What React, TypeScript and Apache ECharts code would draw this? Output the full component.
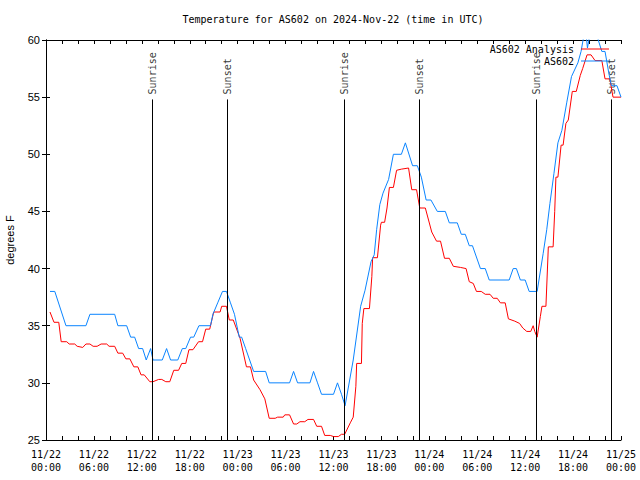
import React, { useEffect, useRef } from "react";
import * as echarts from "echarts";

const xTickLabels = [
  "11/22\n00:00", "11/22\n06:00", "11/22\n12:00", "11/22\n18:00",
  "11/23\n00:00", "11/23\n06:00", "11/23\n12:00", "11/23\n18:00",
  "11/24\n00:00", "11/24\n06:00", "11/24\n12:00", "11/24\n18:00",
  "11/25\n00:00",
];

// hours since 11/22 00:00 UTC
const obsHours = [
  0.5, 1.1, 2.5, 5.0, 5.5, 8.6, 9.0, 10.1, 10.6, 11.1, 11.6, 12.1, 12.55, 13.1, 13.4,
  14.56, 15.1, 15.6, 16.5, 17.07, 17.5, 18.1, 18.5, 19.15, 20.6, 20.9, 21.5, 22.1, 22.6,
  23.1, 23.6, 24.2, 24.5, 25.0, 25.5, 26.0, 27.5, 27.95, 30.5, 31.0, 31.5, 33.05, 33.5,
  34.0, 34.5, 36.0, 36.5, 37.0, 37.45, 38.47, 39.4, 39.95, 40.7, 41.1, 41.4, 41.8, 42.2,
  42.9, 43.5, 44.5, 45.0, 45.9, 46.5, 47.0, 47.6, 48.2, 49.0, 50.0, 50.5, 51.5, 52.0,
  52.5, 53.0, 53.4, 54.4, 55.0, 55.5, 58.0, 58.5, 58.9, 59.4, 60.0, 60.5, 61.5, 62.25,
  62.7, 63.1, 63.6, 64.1, 64.6, 65.2, 65.8, 66.6, 67.0, 67.3, 67.55, 67.8, 68.1, 68.4,
  68.9, 69.15, 69.6, 70.0, 70.5, 70.8, 71.5, 72.0,
];
const obsTemps = [
  38, 38, 35, 35, 36, 36, 35, 35, 34, 34, 33, 33, 32, 33, 32,
  32, 33, 32, 32, 33, 33, 34, 34, 35, 35, 36, 37, 38, 38,
  37, 36, 34, 34, 33, 32, 31, 31, 30, 30, 31, 30, 30, 31,
  30, 29, 29, 30, 29, 28, 32, 36.7, 38.1, 40.6, 41.2, 43.4, 45.6, 46.6,
  47.8, 50, 50, 51, 49, 49, 48, 46, 46, 45, 45, 44, 44, 43,
  43, 42, 42, 40, 40, 39, 39, 40, 40, 39, 39, 38, 38, 41.3,
  43.4, 45.7, 48.3, 51, 52.1, 54.5, 56.8, 58, 59, 60.2, 61, 59.3, 60.5, 61,
  61, 60, 59, 59, 57, 56, 56, 55,
];

const anaHours = [
  0.5, 1.0, 1.6, 1.9, 2.6, 2.9, 3.6, 3.9, 4.6, 5.0, 5.5, 5.9, 6.4, 6.9, 7.6, 7.9, 8.6,
  9.0, 9.6, 10.0, 10.5, 11.0, 11.5, 11.9, 12.3, 13.0, 13.4, 14.1, 14.5, 15.0, 15.5,
  16.0, 16.6, 17.0, 17.5, 17.9, 18.4, 19.1, 19.6, 20.0, 20.5, 21.0, 21.8, 22.0, 22.6,
  22.95, 23.45, 24.3, 25.1, 25.6, 26.0, 26.8, 27.4, 27.95, 28.7, 29.0, 29.7, 29.9, 30.5,
  31.0, 31.4, 31.8, 32.4, 32.8, 33.5, 33.9, 34.5, 34.9, 35.6, 36.0, 36.6, 37.0, 37.4,
  38.1, 38.47, 38.8, 38.9, 39.5, 39.6, 39.8, 40.5, 40.8, 40.9, 41.5, 41.9, 42.0, 42.4,
  42.7, 43.0, 43.5, 43.9, 44.5, 45.4, 45.8, 46.4, 46.8, 47.5, 47.9, 48.3, 48.9, 49.4,
  49.9, 50.5, 51.0, 51.9, 52.6, 53.0, 53.5, 53.9, 54.5, 55.0, 55.6, 56.0, 56.5, 56.9,
  57.5, 57.9, 58.7, 59.3, 59.7, 60.2, 60.7, 61.0, 61.2, 61.5, 61.9, 62.1, 62.6, 62.9,
  63.5, 63.7, 63.85, 64.1, 64.5, 64.75, 65.1, 65.4, 65.9, 66.4, 66.9, 67.2, 67.75, 68.25,
  68.75, 69.6, 70.0, 70.6, 71.0, 72.0,
];
const anaTemps = [
  36.2, 35.3, 35.3, 33.6, 33.6, 33.4, 33.4, 33.2, 33.1, 33.4, 33.4, 33.2, 33.2, 33.4, 33.4, 33.2, 33.2,
  32.6, 32.6, 32.1, 32.1, 31.4, 31.4, 30.7, 30.7, 30.1, 30.1, 30.3, 30.3, 30.1, 30.1,
  31.1, 31.1, 31.7, 31.7, 32.9, 32.9, 33.6, 33.6, 34.7, 34.7, 36.2, 36.2, 36.7, 36.7,
  35.5, 35.5, 33.9, 31.4, 31.4, 30.25, 29.4, 28.6, 26.9, 26.9, 27.0, 27.0, 27.2, 27.2,
  26.4, 26.4, 26.6, 26.6, 26.8, 26.8, 26.2, 26.2, 25.4, 25.4, 25.3, 25.3, 25.5, 25.5,
  26.5, 27.0, 29.7, 31.7, 31.7, 35.2, 36.5, 36.5, 39.3, 40.95, 40.95, 43.8, 44.05, 44.05,
  45.3, 47.1, 47.1, 48.6, 48.7, 48.8, 46.9, 46.9, 45.3, 45.3, 44.25, 43.2, 42.4, 42.4,
  40.9, 40.9, 40.2, 40.1, 40.0, 38.85, 38.7, 38.0, 38.0, 37.75, 37.75, 37.4, 37.4, 37.0,
  37.0, 35.6, 35.4, 35.2, 34.8, 34.5, 34.5, 35.0, 34.5, 34.0, 35.8, 36.7, 36.7, 41.9,
  41.9, 45.0, 48.0, 48.0, 50.8, 50.8, 52.7, 53.0, 55.5, 55.5, 56.9, 57.5, 58.7, 58.7,
  58.2, 58.2, 56.6, 56.6, 55.0, 55.0,
];

const eventNames = ["Sunrise", "Sunset", "Sunrise", "Sunset", "Sunrise", "Sunset"];
const eventHours = [13.31, 22.7, 37.36, 46.75, 61.44, 70.8];
const eventTop = 54.8;

const MONO = "DejaVu Sans Mono";
const SANS = "Liberation Sans";

export default function App() {
  const ref = useRef<HTMLDivElement>(null);
  useEffect(() => {
    if (!ref.current) return;
    const chart = echarts.init(ref.current, undefined, { renderer: "svg" });
    const obs = obsHours.map((h, i) => [h, obsTemps[i]]);
    const ana = anaHours.map((h, i) => [h, anaTemps[i]]);
    const xCommon = {
      type: "value" as const,
      min: 0,
      max: 72,
      interval: 6,
      splitLine: { show: false },
      axisLine: { show: true, lineStyle: { color: "#000", width: 1 } },
      axisTick: { show: true, inside: true, length: 4, lineStyle: { color: "#000" } },
      minorTick: { show: true, splitNumber: 3, length: 4, lineStyle: { color: "#000" } },
      minorSplitLine: { show: false },
    };
    const yCommon = {
      type: "value" as const,
      min: 25,
      max: 60,
      interval: 5,
      splitLine: { show: false },
      axisLine: { show: true, lineStyle: { color: "#000", width: 1 } },
      axisTick: { show: true, inside: true, length: 4, lineStyle: { color: "#000" } },
    };
    chart.setOption({
      animation: false,
      backgroundColor: "#fff",
      title: {
        text: "Temperature for AS602 on 2024-Nov-22 (time in UTC)",
        left: 328,
        textAlign: "center",
        top: 9,
        textStyle: { fontFamily: MONO, fontSize: 10, fontWeight: "normal", color: "#000" },
      },
      legend: {
        data: ["AS602 Analysis", "AS602"],
        orient: "vertical",
        right: 31,
        top: 43,
        align: "right",
        icon: "rect",
        itemWidth: 28,
        itemHeight: 1,
        itemGap: 0,
        padding: 0,
        textStyle: { fontFamily: MONO, fontSize: 10, color: "#000", lineHeight: 12, padding: [0, 2, 0, 0] },
      },
      grid: { left: 46, right: 19, top: 40, bottom: 40, containLabel: false, outerBoundsMode: "none" },
      xAxis: [
        {
          ...xCommon,
          position: "bottom",
          axisLabel: {
            show: true,
            margin: 8,
            fontFamily: MONO,
            fontSize: 10,
            color: "#000",
            lineHeight: 13,
            formatter: (v: number) => xTickLabels[Math.round(v / 6)] ?? "",
          },
        },
        { ...xCommon, position: "top", axisLabel: { show: false } },
      ],
      yAxis: [
        {
          ...yCommon,
          position: "left",
          name: "degrees F",
          nameLocation: "middle",
          nameRotate: 90,
          nameGap: 31,
          nameTextStyle: { fontFamily: SANS, fontSize: 11, color: "#000" },
          axisLabel: { show: true, margin: 6, fontFamily: SANS, fontSize: 11, color: "#000" },
        },
        { ...yCommon, position: "right", axisLabel: { show: false } },
      ],
      series: [
        {
          name: "AS602 Analysis",
          type: "line",
          data: ana,
          symbol: "none",
          clip: true,
          lineStyle: { color: "#ff0000", width: 1 },
          itemStyle: { color: "#ff0000" },
        },
        {
          name: "AS602",
          type: "line",
          data: obs,
          symbol: "none",
          clip: true,
          lineStyle: { color: "#0a84ff", width: 1 },
          itemStyle: { color: "#0a84ff" },
        },
        {
          name: "events",
          type: "scatter",
          symbolSize: 0,
          silent: true,
          data: eventHours.map((h, i) => ({ value: [h, eventTop], name: eventNames[i] })),
          label: {
            show: true,
            formatter: "{b}",
            position: "top",
            distance: 5,
            rotate: 90,
            align: "left",
            verticalAlign: "middle",
            fontFamily: MONO,
            fontSize: 10,
            color: "#000",
          },
          markLine: {
            symbol: "none",
            silent: true,
            label: { show: false },
            lineStyle: { color: "#000", width: 1, type: "solid" },
            data: eventHours.map((h) => [{ coord: [h, 25] }, { coord: [h, eventTop] }]),
          },
        },
      ],
    });
    return () => chart.dispose();
  }, []);
  return (
    <div
      ref={ref}
      style={{ position: "fixed", left: 0, top: 0, width: 640, height: 480, background: "#fff" }}
    />
  );
}
